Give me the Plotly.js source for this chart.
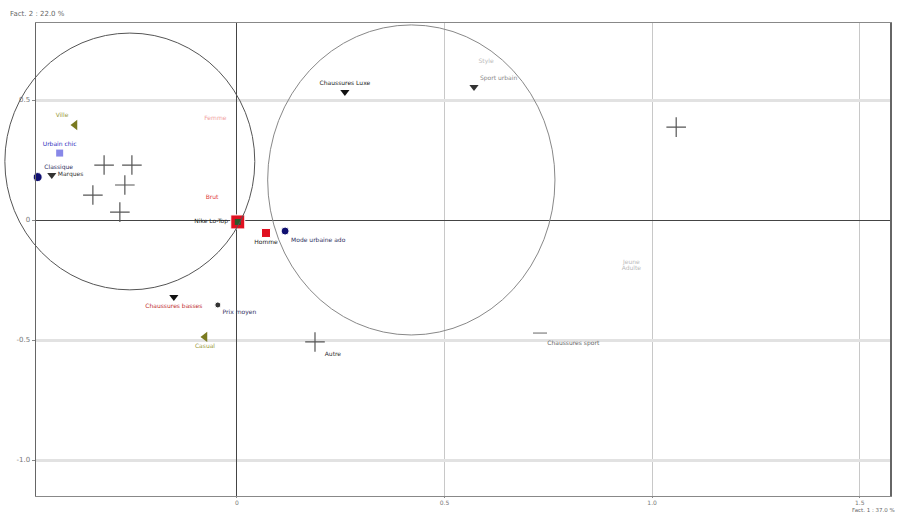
<!DOCTYPE html>
<html>
<head>
<meta charset="utf-8">
<script src="https://cdn.plot.ly/plotly-3.0.1.min.js"></script>
<style>html,body{margin:0;padding:0;background:#fff;}</style>
</head>
<body>
<div id="chart" style="width:899px;height:515px;"></div>
<script>
// ---- data (factor coordinates) ----
const xTickVals = [0, 0.5, 1.0, 1.5];
const xTickText = ["0", "0.5", "1.0", "1.5"];
const yTickVals = [-1.0, -0.5, 0, 0.5];
const yTickText = ["-1.0", "-0.5", "0", "0.5"];

// black triangles (down)
const triLabels = ["Marques", "Chaussures Luxe", "Sport urbain", "Chaussures basses"];
const triX = [-0.446, 0.260, 0.571, -0.152];
const triY = [0.188, 0.533, 0.554, -0.321];

// olive triangles (left)
const oliveLabels = ["Ville", "Casual"];
const oliveX = [-0.390, -0.077];
const oliveY = [0.396, -0.487];

// navy circles
const circLabels = ["Classique", "Mode urbaine ado", "Prix moyen", ""];
const circX = [-0.480, 0.116, -0.046, 1.573];
const circY = [0.179, -0.046, -0.354, 0.825];

// red squares
const sqLabels = ["Nike Lo-Top", "Homme"];
const sqX = [0.002, 0.070];
const sqY = [-0.008, -0.054];

// light blue square
const lbLabels = ["Urbain chic"];
const lbX = [-0.427];
const lbY = [0.279];

// grey crosses
const crossLabels = ["", "", "", "", "", "Autre", ""];
const crossX = [-0.320, -0.253, -0.270, -0.347, -0.282, 0.188, 1.058];
const crossY = [0.229, 0.229, 0.146, 0.104, 0.033, -0.508, 0.387];

// small grey marker
const smallLabels = ["Chaussures sport"];
const smallX = [0.730];
const smallY = [-0.471];

// faint text labels
const faintLabels = ["Brut", "Femme", "Style", "Jeune", "Adulte"];
const faintX = [-0.060, -0.052, 0.600, 0.950, 0.950];
const faintY = [0.092, 0.425, 0.660, -0.175, -0.200];

// confidence circles (centre x, centre y, radius x, radius y) in data units
const ellCx = [-0.258, 0.420];
const ellCy = [0.244, 0.167];
const ellRx = [0.301, 0.346];
const ellRy = [0.535, 0.646];

// ---- layout ----
const W = 899, H = 515;
const M = {l: 36, r: 9, t: 23, b: 19};
const xRange = [-0.484, 1.573];
const yRange = [-1.15, 0.821];
const toPX = v => (v - xRange[0]) / (xRange[1] - xRange[0]);
const toPY = v => (v - yRange[0]) / (yRange[1] - yRange[0]);

const shapes = ellCx.map((cx, i) => ({
  type: "circle", xref: "paper", yref: "paper",
  x0: toPX(cx - ellRx[i]), x1: toPX(cx + ellRx[i]),
  y0: toPY(ellCy[i] - ellRy[i]), y1: toPY(ellCy[i] + ellRy[i]),
  line: {color: i === 0 ? "#555" : "#888", width: 1}
}));
shapes.push({type: "line", xref: "paper", yref: "y", x0: 0, x1: 1, y0: -0.5, y1: -0.5,
  line: {color: "#777", width: 1}, layer: "below"});

const lf = {family: "DejaVu Sans", size: 6};

const traces = [
  {x: crossX, y: crossY, text: crossLabels, mode: "markers+text", type: "scatter", cliponaxis: false,
   textposition: "bottom right", textfont: Object.assign({color: "#333"}, lf),
   marker: {symbol: "cross-thin-open", size: 14, opacity: 1, color: "#555", line: {color: "#555", width: 1.2}}},
  {x: triX, y: triY, text: triLabels, mode: "markers+text", type: "scatter", cliponaxis: false,
   textposition: ["middle right", "top center", "top right", "bottom center"],
   textfont: {family: lf.family, size: lf.size, color: ["#333", "#222", "#888", "#c03030"]},
   marker: {symbol: "triangle-down", size: 8, opacity: 1, color: ["#333", "#111", "#333", "#111"]}},
  {x: oliveX, y: oliveY, text: oliveLabels, mode: "markers+text", type: "scatter", cliponaxis: false,
   textposition: ["top left", "bottom center"], textfont: Object.assign({color: "#9a9a40"}, lf),
   marker: {symbol: "triangle-left", size: 9, opacity: 1, color: "#7a7a20"}},
  {x: circX, y: circY, text: circLabels, mode: "markers+text", type: "scatter", cliponaxis: false,
   textposition: ["top right", "bottom right", "bottom right", "top left"],
   textfont: Object.assign({color: "#303060"}, lf),
   marker: {symbol: "circle", size: [9, 8, 6, 6], opacity: 1, color: ["#101070", "#101070", "#333", "#333"]}},
  {x: sqX, y: sqY, text: sqLabels, mode: "markers+text", type: "scatter", cliponaxis: false,
   textposition: ["middle left", "bottom center"], textfont: Object.assign({color: "#222"}, lf),
   marker: {symbol: "square", size: [14, 9], opacity: 1, color: "#e01020"}},
  {x: sqX.slice(0, 1), y: sqY.slice(0, 1), mode: "markers", type: "scatter",
   marker: {symbol: "square", size: 6, opacity: 1, color: "#2a5a2a"}},
  {x: lbX, y: lbY, text: lbLabels, mode: "markers+text", type: "scatter", cliponaxis: false,
   textposition: "top center", textfont: Object.assign({color: "#3030c0"}, lf),
   marker: {symbol: "square", size: 7, opacity: 1, color: "#8888e8"}},
  {x: smallX, y: smallY, text: smallLabels, mode: "markers+text", type: "scatter", cliponaxis: false,
   textposition: "bottom right", textfont: Object.assign({color: "#666"}, lf),
   marker: {symbol: "line-ew-open", size: 10, color: "#666", line: {color: "#666", width: 1}}},
  {x: faintX, y: faintY, text: faintLabels, mode: "text", type: "scatter", cliponaxis: false,
   textfont: {family: lf.family, size: lf.size, color: ["#e04040", "#f0a0a0", "#bbb", "#bbb", "#bbb"]}}
];

const layout = {
  width: W, height: H, margin: M,
  paper_bgcolor: "#fff", plot_bgcolor: "#fff",
  showlegend: false,
  xaxis: {range: xRange, tickvals: xTickVals, ticktext: xTickText, showgrid: true,
    gridcolor: "#c8c8c8", gridwidth: 1, zeroline: true, zerolinecolor: "#444", zerolinewidth: 1,
    showline: true, linecolor: "#888", linewidth: 1, mirror: true, ticks: "outside", ticklen: 1,
    tickcolor: "#888", tickfont: {family: "DejaVu Sans", size: 6, color: "#777"}},
  yaxis: {range: yRange, tickvals: yTickVals, ticktext: yTickText, showgrid: true,
    gridcolor: "#e2e2e2", gridwidth: 3, zeroline: true, zerolinecolor: "#444", zerolinewidth: 1,
    showline: true, linecolor: "#666", linewidth: 1.5, mirror: true, ticks: "outside", ticklen: 3,
    tickcolor: "#888", tickfont: {family: "DejaVu Sans", size: 7, color: "#777"}},
  shapes: shapes,
  annotations: [
    {xref: "paper", yref: "paper", x: -0.033, y: 1.02, xanchor: "left", yanchor: "middle",
     text: "Fact. 2 : 22.0 %", showarrow: false, font: {family: "DejaVu Sans", size: 7, color: "#666"}},
    {xref: "paper", yref: "paper", x: 1.008, y: -0.0398, xanchor: "right", yanchor: "bottom",
     text: "Fact. 1 : 37.0 %", showarrow: false, font: {family: "DejaVu Sans", size: 5.5, color: "#666"}}
  ]
};

Plotly.newPlot("chart", traces, layout, {displayModeBar: false, staticPlot: true});
</script>
</body>
</html>
